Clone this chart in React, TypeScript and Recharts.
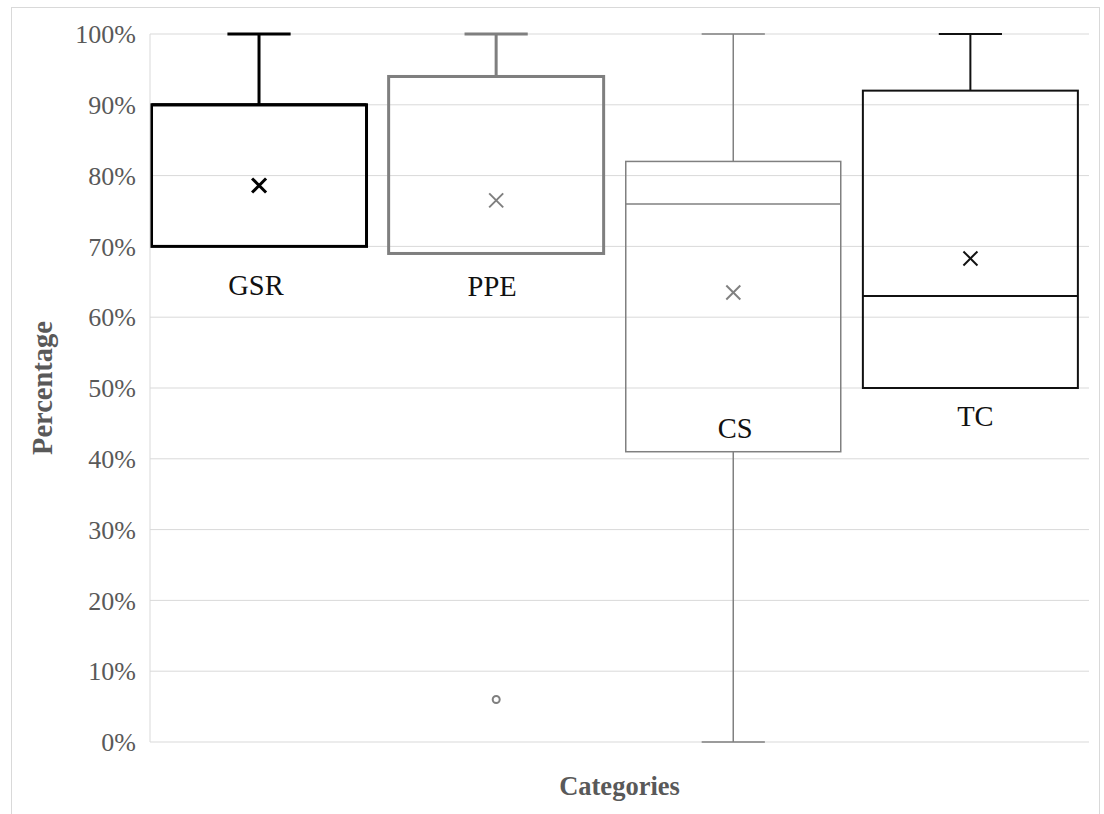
import React from 'react'
import {
  ComposedChart,
  Bar,
  Scatter,
  XAxis,
  YAxis,
  CartesianGrid,
} from 'recharts'

// box plot values (fractions of 1)
const categories = ['GSR', 'PPE', 'CS', 'TC']
const minValues = [0.7, 0.69, 0.0, 0.5]
const q1Values = [0.7, 0.69, 0.41, 0.5]
const medianValues = [0.9, 0.94, 0.76, 0.63]
const q3Values = [0.9, 0.94, 0.82, 0.92]
const maxValues = [1.0, 1.0, 1.0, 1.0]
const meanValues = [0.786, 0.765, 0.635, 0.683]
const outlierCategory = ['PPE']
const outlierValues = [0.06]
const yTicks = [0, 0.1, 0.2, 0.3, 0.4, 0.5, 0.6, 0.7, 0.8, 0.9, 1]

// look of each box (Excel-ish styles)
const boxStyles = [
  { stroke: '#000000', width: 3, markWidth: 3, labelDx: -3, labelDy: 49 },
  { stroke: '#7f7f7f', width: 3, markWidth: 2, labelDx: -4, labelDy: 43 },
  { stroke: '#808080', width: 1.5, markWidth: 2, labelDx: 2, labelDy: -14 },
  { stroke: '#111111', width: 2, markWidth: 2, labelDx: 5, labelDy: 38 },
]

const FONT = "'Liberation Serif', 'Times New Roman', serif"

const rows = categories.map((name, i) => ({
  name,
  pos: i + 1,
  range: [minValues[i], maxValues[i]],
  min: minValues[i],
  q1: q1Values[i],
  median: medianValues[i],
  q3: q3Values[i],
  max: maxValues[i],
  mean: meanValues[i],
}))

const outliers = outlierCategory.map((c, i) => ({
  pos: categories.indexOf(c) + 1,
  value: outlierValues[i],
}))

function BoxShape(props: any) {
  const { x, y, width, height, payload, index } = props
  const st = boxStyles[index]
  const { min, q1, median, q3, max } = payload
  // map a value to pixels using the bar's own [min, max] span
  const yOf = (v: number) =>
    max === min ? y : y + ((max - v) / (max - min)) * height
  const cx = x + width / 2
  const cap = width * 0.147
  const yq1 = yOf(q1)
  const yq3 = yOf(q3)
  return (
    <g fill="none" stroke={st.stroke} strokeWidth={st.width}>
      <line x1={cx} x2={cx} y1={yOf(max)} y2={yq3} />
      <line x1={cx - cap} x2={cx + cap} y1={yOf(max)} y2={yOf(max)} />
      {min < q1 && (
        <>
          <line x1={cx} x2={cx} y1={yq1} y2={yOf(min)} />
          <line x1={cx - cap} x2={cx + cap} y1={yOf(min)} y2={yOf(min)} />
        </>
      )}
      <rect x={x} y={yq3} width={width} height={yq1 - yq3} />
      <line x1={x} x2={x + width} y1={yOf(median)} y2={yOf(median)} />
      <text
        x={cx + st.labelDx}
        y={yq1 + st.labelDy}
        textAnchor="middle"
        stroke="none"
        fill="#111111"
        fontSize={28.5}
        fontFamily={FONT}
      >
        {payload.name}
      </text>
    </g>
  )
}

function MeanMark(props: any) {
  const { cx, cy, index } = props
  const st = boxStyles[index]
  const s = 7
  return (
    <g stroke={st.stroke} strokeWidth={st.markWidth}>
      <line x1={cx - s} y1={cy - s} x2={cx + s} y2={cy + s} />
      <line x1={cx - s} y1={cy + s} x2={cx + s} y2={cy - s} />
    </g>
  )
}

function OutlierMark(props: any) {
  const { cx, cy } = props
  return <circle cx={cx} cy={cy} r={3.5} fill="none" stroke="#7f7f7f" strokeWidth={2} />
}

function YTitle(props: any) {
  const { viewBox } = props
  const cy = viewBox.y + viewBox.height / 2
  return (
    <text
      x={42}
      y={cy}
      transform={`rotate(-90, 42, ${cy})`}
      textAnchor="middle"
      dominantBaseline="central"
      fill="#595959"
      fontWeight="bold"
      fontSize={28.5}
      fontFamily={FONT}
    >
      Percentage
    </text>
  )
}

function XTitle(props: any) {
  const { viewBox } = props
  return (
    <text
      x={viewBox.x + viewBox.width / 2}
      y={795}
      textAnchor="middle"
      fill="#595959"
      fontWeight="bold"
      fontSize={26.5}
      fontFamily={FONT}
    >
      Categories
    </text>
  )
}

export default function App() {
  return (
    <div
      style={{
        position: 'absolute',
        left: 0,
        top: 0,
        width: 1104,
        height: 814,
        overflow: 'hidden',
        background: '#ffffff',
      }}
    >
      <div
        style={{
          position: 'absolute',
          left: 11,
          top: 7,
          width: 1087,
          height: 830,
          border: '1px solid #d9d9d9',
        }}
      />
      <div style={{ position: 'absolute', left: 0, top: 0 }}>
        <ComposedChart
          width={1104}
          height={814}
          data={rows}
          margin={{ top: 34, right: 15, left: 0, bottom: 0 }}
        >
          <CartesianGrid horizontal vertical={false} stroke="#d9d9d9" />
          <XAxis
            type="number"
            dataKey="pos"
            domain={[0.54, 4.5]}
            allowDataOverflow
            height={72}
            tick={false}
            tickLine={false}
            axisLine={false}
            label={<XTitle />}
          />
          <YAxis
            type="number"
            domain={[0, 1]}
            ticks={yTicks}
            width={150}
            tickFormatter={(v: number) => `${Math.round(v * 100)}%`}
            tick={{ fill: '#595959', fontSize: 26, fontFamily: FONT }}
            tickLine={false}
            tickMargin={8}
            axisLine={{ stroke: '#d9d9d9' }}
            label={<YTitle />}
          />
          <Bar
            dataKey="range"
            barSize={215}
            shape={<BoxShape />}
            isAnimationActive={false}
          />
          <Scatter dataKey="mean" shape={<MeanMark />} isAnimationActive={false} />
          <Scatter
            data={outliers}
            dataKey="value"
            shape={<OutlierMark />}
            isAnimationActive={false}
          />
        </ComposedChart>
      </div>
    </div>
  )
}
